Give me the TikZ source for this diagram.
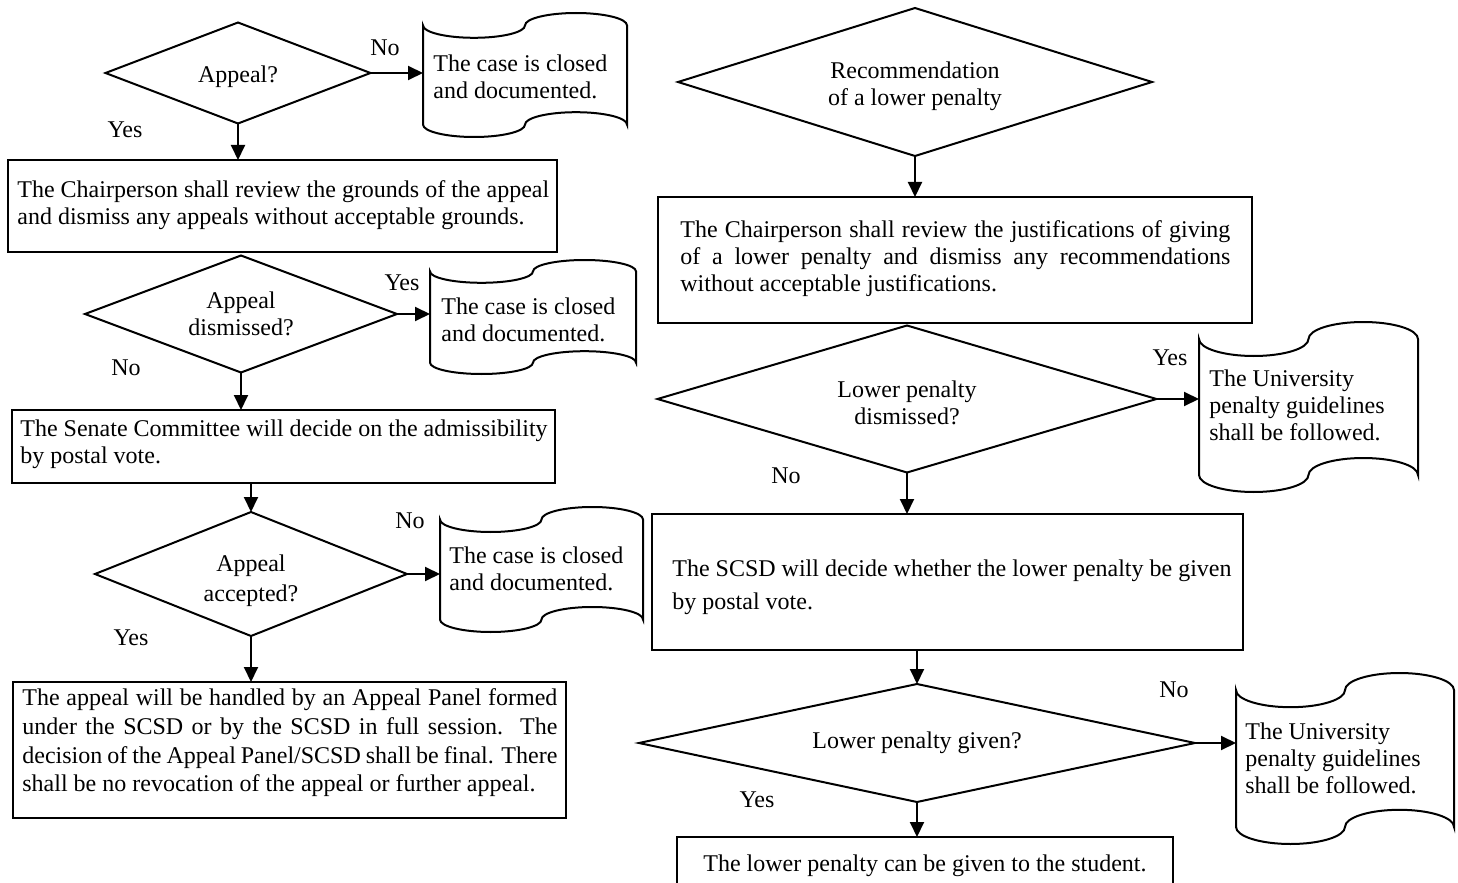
\documentclass[tikz,border=0pt]{standalone}
\usepackage{fontspec}
\setmainfont{Liberation Serif}
\usetikzlibrary{shapes.geometric,arrows.meta,fit}
\newcommand\punchtape[5]{% #1 name, #2 L, #3 T, #4 R, #5 B (px)
  \pgfmathsetmacro\tL{#2}\pgfmathsetmacro\tT{#3}%
  \pgfmathsetmacro\tR{#4}\pgfmathsetmacro\tB{#5}%
  \pgfmathsetmacro\rx{(\tR-\tL)/4}\pgfmathsetmacro\ry{(\tB-\tT)/10}%
  \pgfmathsetmacro\kx{0.5523*\rx}\pgfmathsetmacro\ky{0.5523*\ry}%
  \draw[line] ({\tL},{\tT+\ry})
    .. controls ({\tL},{\tT+\ry+\ky}) and ({\tL+\rx-\kx},{\tT+2*\ry}) .. ({\tL+\rx},{\tT+2*\ry})
    .. controls ({\tL+\rx+\kx},{\tT+2*\ry}) and ({\tL+2*\rx},{\tT+\ry+\ky}) .. ({\tL+2*\rx},{\tT+\ry})
    .. controls ({\tL+2*\rx},{\tT+\ry-\ky}) and ({\tL+3*\rx-\kx},{\tT}) .. ({\tL+3*\rx},{\tT})
    .. controls ({\tL+3*\rx+\kx},{\tT}) and ({\tR},{\tT+\ry-\ky}) .. ({\tR},{\tT+\ry})
    -- ({\tR},{\tB-\ry})
    .. controls ({\tR},{\tB-\ry-\ky}) and ({\tL+3*\rx+\kx},{\tB-2*\ry}) .. ({\tL+3*\rx},{\tB-2*\ry})
    .. controls ({\tL+3*\rx-\kx},{\tB-2*\ry}) and ({\tL+2*\rx},{\tB-\ry-\ky}) .. ({\tL+2*\rx},{\tB-\ry})
    .. controls ({\tL+2*\rx},{\tB-\ry+\ky}) and ({\tL+\rx+\kx},{\tB}) .. ({\tL+\rx},{\tB})
    .. controls ({\tL+\rx-\kx},{\tB}) and ({\tL},{\tB-\ry+\ky}) .. ({\tL},{\tB-\ry})
    -- cycle;
  \node[fit={({\tL},{\tT}) ({\tR},{\tB})}, inner sep=0pt, outer sep=0pt] (#1) {};
}
\begin{document}
\begin{tikzpicture}[x=0.5pt, y=-0.5pt,
  every node/.style={font=\fontsize{12pt}{13.5pt}\selectfont},
  line/.style={draw=black, line width=1pt},
  box/.style={line, inner sep=0pt, outer sep=0pt},
  dia/.style={line, diamond, inner sep=0pt, outer sep=0pt},
  txt/.style={inner sep=0pt, align=left},
  ctxt/.style={inner sep=0pt, align=center},
  arr/.style={line, -{Triangle[length=7.5pt,width=7pt]}},
  lbl/.style={inner sep=0pt}]
\useasboundingbox (0,0) rectangle (1458,883);
\clip (0,0) rectangle (1458,883);

% ---------- left column ----------
\node[dia, minimum width=132.5pt, minimum height=50.5pt, shape aspect=2.62] (d1) at (238,73) {};
\node[ctxt] (d1t) at (238,77) {Appeal?};
\punchtape{t1}{423}{13}{627}{137}
\node[txt, anchor=west] (t1t) at (433,77) {The case is closed\\and documented.};
\node[box, fit={(8,160) (557,252)}] (b1) {};
\node[txt, anchor=west] (b1t) at (17,205.5) {The Chairperson shall review the grounds of the appeal\\and dismiss any appeals without acceptable grounds.};

\node[dia, minimum width=156pt, minimum height=58.5pt, shape aspect=2.67] (d2) at (241,314) {};
\node[ctxt] (d2t) at (241,314) {Appeal\\dismissed?};
\punchtape{t2}{430}{260}{636}{374}
\node[txt, anchor=west] (t2t) at (441,320) {The case is closed\\and documented.};
\node[box, fit={(12,410) (555,483)}] (b2) {};
\node[txt, anchor=west] (b2t) at (20,444.5) {The Senate Committee will decide on the admissibility\\by postal vote.};

\node[dia, minimum width=156pt, minimum height=62pt, shape aspect=2.52] (d3) at (251,574) {};
\node[ctxt] (d3t) at (251,580.5) {Appeal\\[1.5pt]accepted?};
\punchtape{t3}{440}{507}{643}{632}
\node[txt, anchor=west] (t3t) at (449,568.5) {The case is closed\\and documented.};
\node[box, fit={(13,682) (566,818)}] (b3) {};
\node[txt, anchor=west] (b3t) at (22,743) {\makebox[267.5pt][s]{The appeal will be handled by an Appeal Panel formed}\\[0.85pt]
\makebox[267.5pt][s]{under the SCSD or by the SCSD in full session.\ \ The}\\[0.85pt]
\makebox[267.5pt][s]{decision of the Appeal Panel/SCSD shall be final. There}\\[0.85pt]
shall be no revocation of the appeal or further appeal.};

% ---------- right column ----------
\node[dia, minimum width=237pt, minimum height=74pt, shape aspect=3.2] (d4) at (915,82) {};
\node[ctxt] (d4t) at (915,86.5) {Recommendation\\of a lower penalty};
\node[box, fit={(658,197) (1252,323)}] (b4) {};
\node[txt, anchor=west] (b4t) at (680,259) {\makebox[275pt][s]{The Chairperson shall review the justifications of giving}\\
\makebox[275pt][s]{of a lower penalty and dismiss any recommendations}\\
without acceptable justifications.};

\node[dia, minimum width=249.5pt, minimum height=73.5pt, shape aspect=3.39] (d5) at (907,399) {};
\node[ctxt] (d5t) at (907,402.5) {Lower penalty\\dismissed?};
\punchtape{t4}{1199}{322}{1418}{492}
\node[txt, anchor=west] (t4t) at (1209,405) {The University\\penalty guidelines\\shall be followed.};
\node[box, fit={(652,514) (1243,650)}] (b5) {};
\node[txt, anchor=west] (b5t) at (672,587) {The SCSD will decide whether the lower penalty be given\\[3pt]by postal vote.};

\node[dia, minimum width=278pt, minimum height=59pt, shape aspect=4.71] (d6) at (917,743) {};
\node[ctxt] (d6t) at (917,743) {Lower penalty given?};
\punchtape{t5}{1236}{673}{1454}{844}
\node[txt, anchor=west] (t5t) at (1245,758) {The University\\penalty guidelines\\shall be followed.};
\node[box, fit={(677,837) (1173,900)}] (b6) {};
\node[ctxt] (b6t) at (925,866) {The lower penalty can be given to the student.};

% ---------- connectors ----------
\draw[arr] (d1.south) -- (d1.south |- b1.north);
\draw[arr] (d1.east) -- (d1.east -| t1.west);
\draw[arr] (d2.south) -- (d2.south |- b2.north);
\draw[arr] (d2.east) -- (d2.east -| t2.west);
\draw[arr] (d3.north |- b2.south) -- (d3.north);
\draw[arr] (d3.south) -- (d3.south |- b3.north);
\draw[arr] (d3.east) -- (d3.east -| t3.west);
\draw[arr] (d4.south) -- (d4.south |- b4.north);
\draw[arr] (d5.south) -- (d5.south |- b5.north);
\draw[arr] (d5.east) -- (d5.east -| t4.west);
\draw[arr] (d6.north |- b5.south) -- (d6.north);
\draw[arr] (d6.south) -- (d6.south |- b6.north);
\draw[arr] (d6.east) -- (d6.east -| t5.west);

% ---------- labels ----------
\node[lbl] (l1) at (385,48) {No};
\node[lbl] (l2) at (125,130) {Yes};
\node[lbl] (l3) at (402,283) {Yes};
\node[lbl] (l4) at (126,368) {No};
\node[lbl] (l5) at (410,521) {No};
\node[lbl] (l6) at (131,638) {Yes};
\node[lbl] (l7) at (1170,358) {Yes};
\node[lbl] (l8) at (786,476) {No};
\node[lbl] (l9) at (1174,690) {No};
\node[lbl] (l10) at (757,800) {Yes};
\end{tikzpicture}
\end{document}
